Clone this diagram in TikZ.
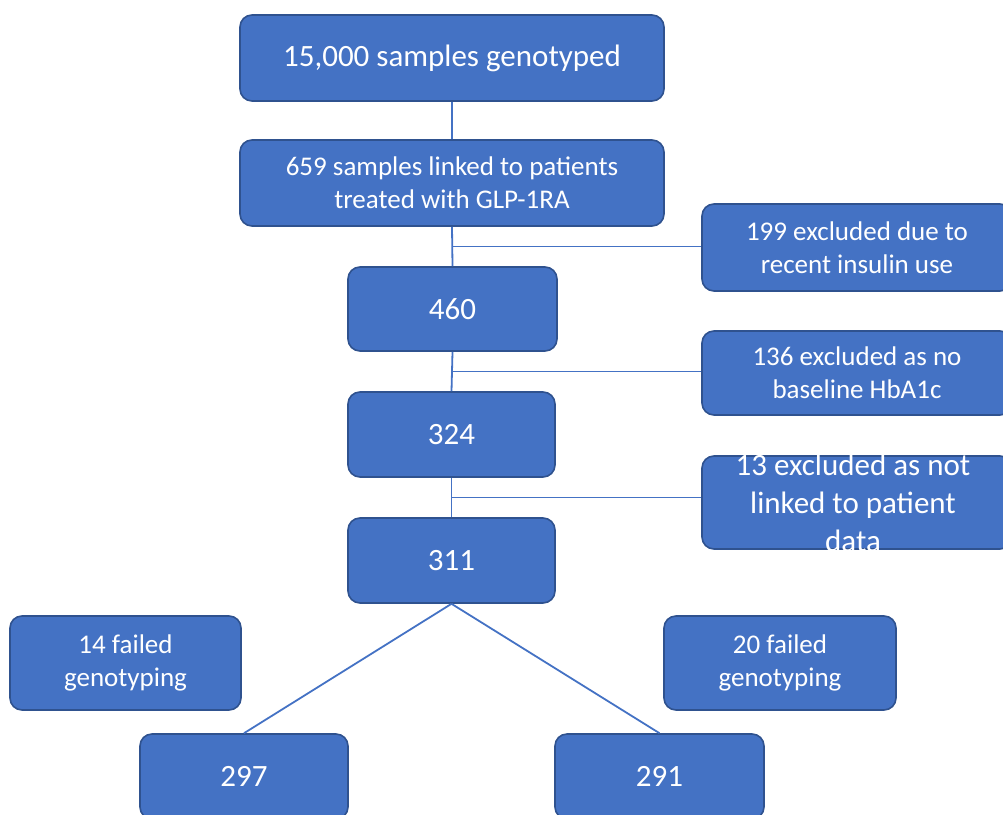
\documentclass[tikz,border=0pt]{standalone}
\usepackage{fontspec}
\setmainfont{Carlito}
\usetikzlibrary{calc}
\definecolor{boxfill}{HTML}{4472C4}
\definecolor{boxedge}{HTML}{2F528F}
\definecolor{linkcol}{HTML}{4472C4}
\begin{document}
\begin{tikzpicture}[x=1pt,y=-1pt,
  box/.style={rectangle, rounded corners=12pt, fill=boxfill, draw=boxedge, line width=1.6pt,
    text=white, align=center, inner sep=0pt},
  big/.style={font=\fontsize{31}{38}\selectfont},
  mid/.style={font=\fontsize{27}{33}\selectfont},
  link/.style={draw=linkcol, line width=1.8pt}]
\useasboundingbox (0,0) rectangle (1003,814);
\clip (0,0) rectangle (1003,814);
\node[box, big, minimum width=424, minimum height=86] (n15) at (452,58) {15,000\ samples\ genotyped};
\node[box, mid, minimum width=424, minimum height=86] (n659) at (452,183) {659 samples linked to patients\\treated with GLP-1RA};
\node[box, mid, minimum width=310, minimum height=87] (r1) at (857,247.5) {199 excluded due to\\recent insulin use};
\node[box, big, minimum width=209, minimum height=84] (n460) at (452.5,309) {460};
\node[box, mid, minimum width=310, minimum height=84] (r2) at (857,373) {136 excluded as no\\baseline HbA1c};
\node[box, big, minimum width=207, minimum height=85] (n324) at (451.5,434.5) {324};
\node[box, minimum width=310, minimum height=93] (r3) at (857,502.5) {};
\node[big, text=white, align=center, inner sep=0pt] (r3t) at (853,503) {13 excluded as not\\linked to patient\\data};
\node[box, big, minimum width=207, minimum height=85] (n311) at (451.5,560.5) {311};
\node[box, mid, minimum width=231, minimum height=94] (f14) at (125.5,663) {14 failed\\genotyping};
\node[box, mid, minimum width=232, minimum height=94] (f20) at (780,663) {20 failed\\genotyping};
\node[box, big, minimum width=208, minimum height=85] (n297) at (244,776.5) {297};
\node[box, big, minimum width=209, minimum height=85] (n291) at (659.5,776.5) {291};
% connectors
\draw[link] (n15.south) -- (n659.north);
\draw[link] (n659.south) -- coordinate[pos=0.5] (j1) (n460.north);
\draw[link] (j1) -- (j1 -| r1.west);
\draw[link] (n460.south) -- coordinate[pos=0.5] (j2) (n324.north);
\draw[link] (j2) -- (j2 -| r2.west);
\draw[link] (n324.south) -- coordinate[pos=0.5] (j3) (n311.north);
\draw[link] (j3) -- (j3 -| r3.west);
\draw[link] (n311.south) -- (n297.north);
\draw[link] (n311.south) -- (n291.north);
\end{tikzpicture}
\end{document}
